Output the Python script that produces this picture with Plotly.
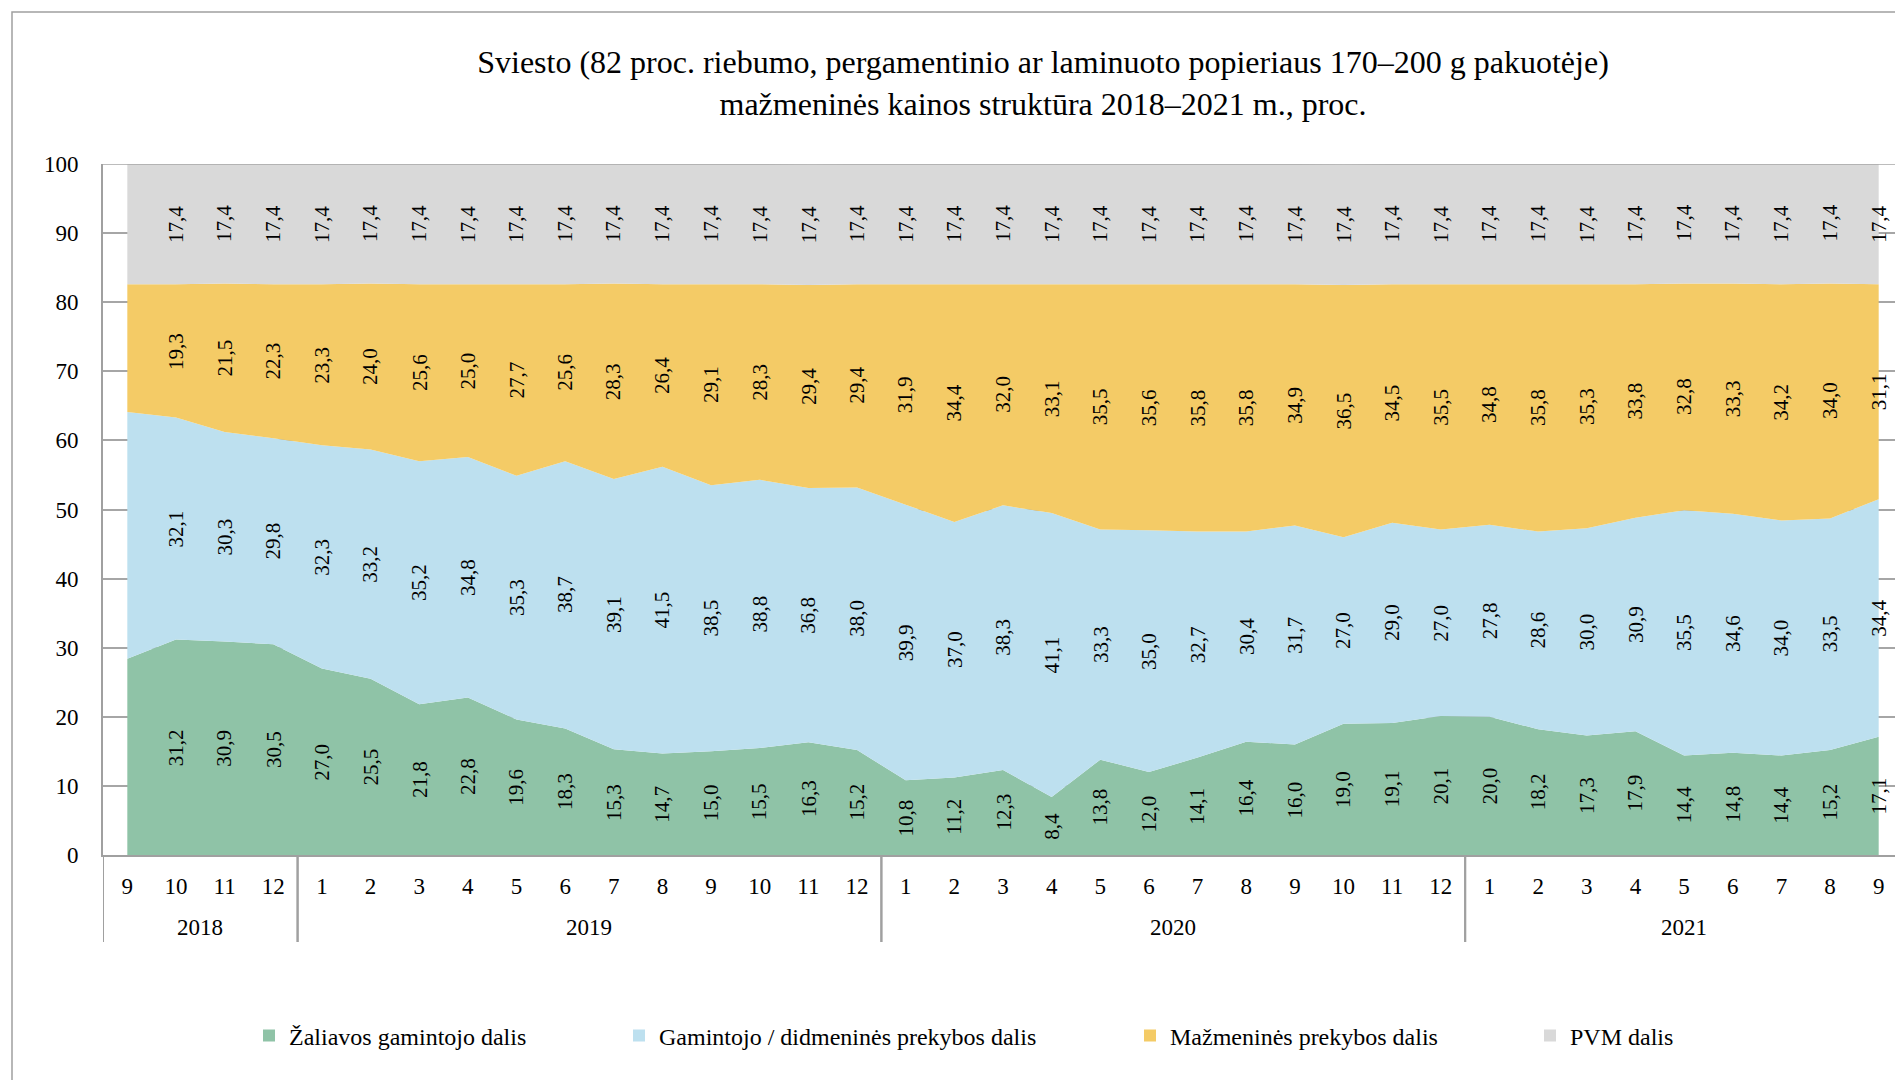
import numpy as np
import plotly.graph_objects as go

months = [9, 10, 11, 12,
          1, 2, 3, 4, 5, 6, 7, 8, 9, 10, 11, 12,
          1, 2, 3, 4, 5, 6, 7, 8, 9, 10, 11, 12,
          1, 2, 3, 4, 5, 6, 7, 8, 9]
years = [2018] * 4 + [2019] * 12 + [2020] * 12 + [2021] * 9

zaliavos = [28.4, 31.2, 30.9, 30.5, 27.0, 25.5, 21.8, 22.8, 19.6, 18.3, 15.3, 14.7,
            15.0, 15.5, 16.3, 15.2, 10.8, 11.2, 12.3, 8.4, 13.8, 12.0, 14.1, 16.4,
            16.0, 19.0, 19.1, 20.1, 20.0, 18.2, 17.3, 17.9, 14.4, 14.8, 14.4, 15.2, 17.1]
gamintojo = [35.7, 32.1, 30.3, 29.8, 32.3, 33.2, 35.2, 34.8, 35.3, 38.7, 39.1, 41.5,
             38.5, 38.8, 36.8, 38.0, 39.9, 37.0, 38.3, 41.1, 33.3, 35.0, 32.7, 30.4,
             31.7, 27.0, 29.0, 27.0, 27.8, 28.6, 30.0, 30.9, 35.5, 34.6, 34.0, 33.5, 34.4]
mazmenines = [18.5, 19.3, 21.5, 22.3, 23.3, 24.0, 25.6, 25.0, 27.7, 25.6, 28.3, 26.4,
              29.1, 28.3, 29.4, 29.4, 31.9, 34.4, 32.0, 33.1, 35.5, 35.6, 35.8, 35.8,
              34.9, 36.5, 34.5, 35.5, 34.8, 35.8, 35.3, 33.8, 32.8, 33.3, 34.2, 34.0, 31.1]
pvm = [17.4] * 37

series_names = ["Žaliavos gamintojo dalis", "Gamintojo / didmeninės prekybos dalis",
                "Mažmeninės prekybos dalis", "PVM dalis"]
series_values = [zaliavos, gamintojo, mazmenines, pvm]
colors = ["#8FC3A7", "#BDE0EF", "#F4CB66", "#D9D9D9"]

FONT = "Liberation Serif"
OFF = 8  # page body margin
W, H = 1903 - OFF, 1080 - OFF
L, T = 103 - OFF, 164 - OFF
BOTTOM = 855 - OFF
R = 0
B = H - BOTTOM
pw, ph = W - L - R, BOTTOM - T


def py(y_ref):
    """reference pixel y -> paper y"""
    return (BOTTOM - (y_ref - OFF)) / ph


def px(x_ref):
    return ((x_ref - OFF) - L) / pw


x = list(range(len(months)))
fig = go.Figure()

for name, vals, col in zip(series_names, series_values, colors):
    fig.add_trace(go.Scatter(x=x, y=vals, stackgroup="one", mode="none",
                             fillcolor=col, name=name, showlegend=False,
                             hoverinfo="skip"))

# legend entries (squares), each in its own legend
legend_px = [249, 619, 1130, 1530]
for i, (name, col) in enumerate(zip(series_names, colors)):
    lg = "legend" if i == 0 else f"legend{i+1}"
    fig.add_trace(go.Scatter(x=[None], y=[None], mode="markers",
                             marker=dict(symbol="square", size=12, color=col),
                             name=name, legend=lg, showlegend=True))

# data labels
cum = np.cumsum(np.array(series_values), axis=0)
annotations = []
for s, vals in enumerate(series_values):
    for i in range(1, len(vals)):
        mid = cum[s][i] - vals[i] / 2.0
        annotations.append(dict(x=x[i], y=mid, xref="x", yref="y",
                                text=f"{vals[i]:.1f}".replace(".", ","),
                                textangle=-90, showarrow=False,
                                font=dict(family=FONT, size=21, color="black")))

# year labels and separators
shapes = []
for yv in sorted(set(years)):
    idx = [i for i, v in enumerate(years) if v == yv]
    annotations.append(dict(x=(idx[0] + idx[-1]) / 2.0, y=py(928),
                            xref="x", yref="paper", text=str(yv), showarrow=False,
                            yanchor="middle",
                            font=dict(family=FONT, size=23, color="black")))
    for xb in (idx[0] - 0.5, idx[-1] + 0.5):
        shapes.append(dict(type="line", xref="x", yref="paper", x0=xb, x1=xb,
                           y0=0, y1=py(942),
                           line=dict(color="#A0A0A0", width=2)))

# top line at 100
shapes.append(dict(type="line", xref="paper", yref="y", x0=0, x1=1, y0=100, y1=100,
                   line=dict(color="#A6A6A6", width=1.5), layer="above"))
# outer chart frame
shapes.append(dict(type="rect", xref="paper", yref="paper",
                   x0=px(12), x1=px(1930), y0=py(1100), y1=py(12),
                   line=dict(color="#A0A0A0", width=1.5), fillcolor="rgba(0,0,0,0)"))

legend_common = dict(orientation="h", yanchor="middle", xanchor="left",
                     y=py(1036), bgcolor="rgba(0,0,0,0)",
                     font=dict(family=FONT, size=24, color="black"),
                     itemwidth=30)
legends = {}
for i, lx in enumerate(legend_px):
    key = "legend" if i == 0 else f"legend{i+1}"
    legends[key] = dict(legend_common, x=px(lx))

fig.update_layout(
    width=W, height=H,
    margin=dict(l=L, r=R, t=T, b=B),
    paper_bgcolor="white", plot_bgcolor="white",
    font=dict(family=FONT, size=23, color="black"),
    title=dict(text="Sviesto (82 proc. riebumo, pergamentinio ar laminuoto popieriaus 170–200 g pakuotėje)<br>mažmeninės kainos struktūra 2018–2021 m., proc.",
               x=(1043 - OFF) / W, xanchor="center", xref="container",
               y=1 - (73 - OFF) / H, yanchor="top", yref="container",
               font=dict(family=FONT, size=32, color="black")),
    xaxis=dict(range=[-0.5, len(months) - 0.5], tickvals=x,
               ticktext=[str(m) for m in months], showgrid=False, zeroline=False,
               showline=True, linecolor="#A0A0A0", linewidth=2, ticks="",
               ticklabelstandoff=9,
               tickfont=dict(family=FONT, size=23, color="black")),
    yaxis=dict(range=[0, 100], tickvals=list(range(0, 101, 10)), showgrid=True,
               gridcolor="#A6A6A6", gridwidth=1.5, zeroline=False,
               showline=True, linecolor="#A0A0A0", linewidth=2, ticks="",
               ticklabelstandoff=18,
               tickfont=dict(family=FONT, size=23, color="black")),
    annotations=annotations,
    shapes=shapes,
    **legends,
)

fig.write_html("out.html")
